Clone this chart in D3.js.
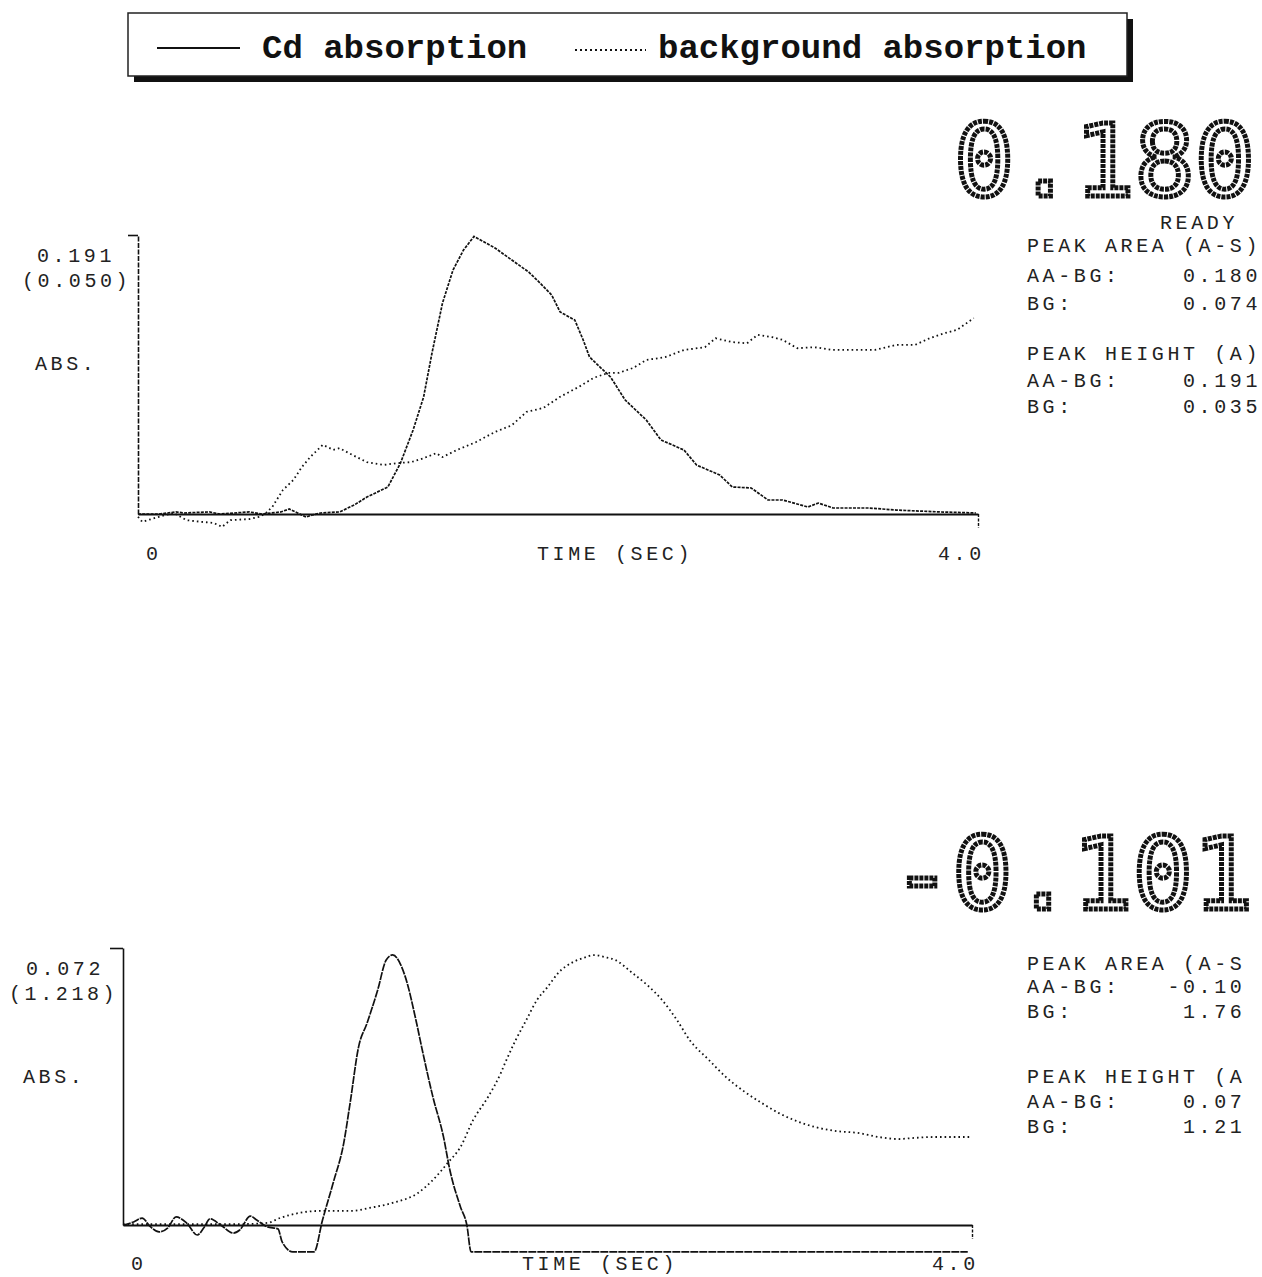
<!DOCTYPE html>
<html lang="en">
<head>
    <meta charset="utf-8">
    <title>Cd absorption</title>
    <style type="text/css">
        body { margin: 0; background: #fff; }
        .dm { font-family: "Liberation Mono", monospace; font-size: 20px; letter-spacing: 3.6px; fill: #222; white-space: pre; }
        .big { font-family: "DejaVu Sans Mono", monospace; font-size: 100px; fill: #fff; stroke: #111; stroke-width: 5; stroke-dasharray: 4,1; }
        .leg { font-family: "Liberation Mono", monospace; font-size: 34px; font-weight: bold; fill: #111; }
    </style>
</head>
<body>
   <svg class="chart" width="1262" height="1277"></svg>

   <script src="https://d3js.org/d3.v7.min.js"></script>
   <script>
        // top trace: time (s) / absorbance
        var cdTopT = [0,0.10,0.18,0.22,0.34,0.39,0.53,0.59,0.68,0.72,0.76,0.80,0.83,0.87,0.96,1.03,1.09,1.19,1.25,1.31,1.36,1.40,1.45,1.50,1.55,1.60,1.70,1.78,1.86,1.91,1.97,2.01,2.08,2.12,2.15,2.20,2.25,2.32,2.42,2.49,2.60,2.66,2.77,2.83,2.92,3.00,3.07,3.19,3.24,3.31,3.48,3.61,3.82,3.99];
        var cdTopA = [0,0,0.0014,0.0007,0.0014,0,0.0014,0,0.0014,0.0034,0.0007,-0.0021,-0.0007,0.0007,0.0014,0.0062,0.0116,0.0185,0.0349,0.0575,0.0801,0.1102,0.1444,0.1670,0.1807,0.1900,0.1821,0.1739,0.1657,0.1588,0.1499,0.1383,0.1328,0.1191,0.1075,0.1006,0.0938,0.0780,0.0644,0.0507,0.0438,0.0335,0.0267,0.0185,0.0178,0.0096,0.0096,0.0048,0.0075,0.0041,0.0041,0.0027,0.0014,0.0007];
        var bgTopT = [0,0.02,0.10,0.17,0.23,0.30,0.36,0.40,0.44,0.53,0.58,0.61,0.64,0.69,0.74,0.78,0.82,0.88,0.93,0.96,1.02,1.09,1.17,1.23,1.30,1.36,1.42,1.45,1.52,1.61,1.70,1.78,1.85,1.93,2.01,2.10,2.17,2.24,2.29,2.36,2.42,2.51,2.60,2.70,2.75,2.83,2.90,2.95,3.02,3.07,3.14,3.22,3.31,3.43,3.51,3.61,3.70,3.77,3.84,3.90,3.98];
        var bgTopA = [-0.0005,-0.0014,-0.0005,0.0002,-0.0011,-0.0014,-0.0016,-0.0023,-0.0011,-0.0009,-0.0005,0.0002,0.0013,0.0043,0.0061,0.0084,0.0102,0.0124,0.0115,0.0118,0.0106,0.0093,0.0088,0.0091,0.0093,0.0100,0.0109,0.0102,0.0115,0.0129,0.0147,0.0159,0.0183,0.0190,0.0210,0.0228,0.0244,0.0253,0.0253,0.0262,0.0276,0.0281,0.0294,0.0299,0.0315,0.0308,0.0306,0.0321,0.0317,0.0312,0.0297,0.0299,0.0294,0.0294,0.0294,0.0303,0.0303,0.0315,0.0324,0.0330,0.0351];

        // bottom trace
        var cdBotT = [0,0.05,0.09,0.13,0.17,0.21,0.25,0.30,0.35,0.38,0.41,0.46,0.52,0.55,0.60,0.63,0.68,0.73,0.75,0.80,0.90,0.94,0.99,1.04,1.07,1.11,1.15,1.20,1.24,1.27,1.33,1.38,1.41,1.46,1.51,1.54,1.59,1.62,1.64,3.98];
        var cdBotA = [0,0.0008,0.0018,-0.0005,-0.0018,-0.0008,0.0021,0.0005,-0.0026,-0.0008,0.0016,0,-0.0021,-0.0013,0.0023,0.0013,-0.0005,-0.0010,-0.0044,-0.0070,-0.0070,0.0013,0.0109,0.0213,0.0317,0.0463,0.0525,0.0611,0.0689,0.0702,0.0645,0.0533,0.0455,0.0333,0.0229,0.0143,0.0047,0,-0.0070,-0.0070];
        var bgBotT = [0,0.17,0.36,0.55,0.68,0.74,0.83,0.93,1.08,1.16,1.27,1.39,1.46,1.53,1.59,1.65,1.72,1.78,1.80,1.85,1.90,1.95,2.00,2.05,2.12,2.17,2.22,2.27,2.32,2.40,2.47,2.54,2.61,2.67,2.76,2.84,2.93,3.01,3.09,3.16,3.26,3.36,3.46,3.56,3.65,3.73,3.82,3.99];
        var bgBotA = [0.004,0.004,0.004,0.004,0.009,0.031,0.053,0.062,0.062,0.075,0.097,0.141,0.198,0.273,0.343,0.462,0.563,0.668,0.712,0.813,0.901,0.989,1.046,1.108,1.156,1.174,1.187,1.178,1.165,1.108,1.055,0.989,0.901,0.813,0.726,0.651,0.585,0.536,0.492,0.462,0.431,0.413,0.405,0.387,0.378,0.383,0.387,0.387];

        // readouts
        var bigTop = '0.180', bigBot = '-0.101';
        var panelTop = ['PEAK AREA (A-S)', 'AA-BG:    0.180', 'BG:       0.074', 'PEAK HEIGHT (A)', 'AA-BG:    0.191', 'BG:       0.035'];
        var panelBot = ['PEAK AREA (A-S', 'AA-BG:   -0.10', 'BG:       1.76', 'PEAK HEIGHT (A', 'AA-BG:    0.07', 'BG:       1.21'];
        var scaleTop = {cd: 0.191, bg: 0.050}, scaleBot = {cd: 0.072, bg: 1.218};
        var legendNames = ['Cd absorption', 'background absorption'];

        var svg = d3.select('.chart');
        svg.append('rect').attr('width', 1262).attr('height', 1277).attr('fill', '#fff');

        // 图例
        var leg = svg.append('g');
        leg.append('rect').attr('x', 134).attr('y', 19).attr('width', 999).attr('height', 63).attr('fill', '#111');
        leg.append('rect').attr('x', 128).attr('y', 13).attr('width', 999).attr('height', 63)
            .attr('fill', '#fff').attr('stroke', '#222').attr('stroke-width', 1.5);
        leg.append('line').attr('x1', 157).attr('x2', 240).attr('y1', 48).attr('y2', 48)
            .attr('stroke', '#111').attr('stroke-width', 1.8);
        leg.append('line').attr('x1', 575).attr('x2', 646).attr('y1', 50).attr('y2', 50)
            .attr('stroke', '#111').attr('stroke-width', 2.2).attr('stroke-dasharray', '2,3');
        leg.append('text').attr('class', 'leg').attr('x', 262).attr('y', 58).text(legendNames[0]);
        leg.append('text').attr('class', 'leg').attr('x', 658).attr('y', 58).text(legendNames[1]);

        function drawTrace(o) {
            var g = svg.append('g');
            var x = d3.scaleLinear().domain([0, 4]).range([o.x0, o.x1]);
            var yCd = d3.scaleLinear().domain([0, o.scale.cd]).range([o.y0, o.y1]);
            var yBg = d3.scaleLinear().domain([0, o.scale.bg]).range([o.y0, o.y1]);

            // 坐标轴
            var ya = g.append('g').attr('transform', 'translate(' + o.x0 + ',0)')
                .call(d3.axisLeft(yCd).tickValues([o.scale.cd]).tickSize(o.tick).tickSizeOuter(0).tickFormat(''));
            ya.selectAll('path, line').attr('stroke', '#111').attr('stroke-width', 1.6);
            if (o.dashAxis) ya.select('path').attr('stroke-dasharray', '5,1.5');

            var xa = g.append('g').attr('transform', 'translate(0,' + o.y0 + ')')
                .call(d3.axisBottom(x).tickValues([4]).tickSize(14).tickSizeOuter(0).tickFormat(''));
            xa.select('path').attr('stroke', '#111').attr('stroke-width', 1.8);
            xa.selectAll('line').attr('stroke', '#111').attr('stroke-width', 1.4).attr('stroke-dasharray', '3,1.5');

            var lineCd = d3.line().x(function(d) { return x(d[0]); }).y(function(d) { return yCd(d[1]); }).curve(o.curve);
            var lineBg = d3.line().x(function(d) { return x(d[0]); }).y(function(d) { return yBg(d[1]); }).curve(o.curve);

            g.append('path').datum(d3.zip(o.bgT, o.bgA)).attr('d', lineBg)
                .attr('fill', 'none').attr('stroke', '#111').attr('stroke-width', 1.8).attr('stroke-dasharray', '1.6,3');
            g.append('path').datum(d3.zip(o.cdT, o.cdA)).attr('d', lineCd)
                .attr('fill', 'none').attr('stroke', '#111').attr('stroke-width', 1.7).attr('stroke-dasharray', o.cdDash);

            // 文字
            g.append('text').attr('class', 'dm').attr('x', o.lx1).attr('y', o.ly1).text(o.scale.cd.toFixed(3));
            g.append('text').attr('class', 'dm').attr('x', o.lx2).attr('y', o.ly1 + 25).text('(' + o.scale.bg.toFixed(3) + ')');
            g.append('text').attr('class', 'dm').attr('x', o.lx3).attr('y', o.ly3).text('ABS.');
            g.append('text').attr('class', 'dm').attr('x', x(0) + 8).attr('y', o.y0 + o.xl).text('0');
            g.append('text').attr('class', 'dm').attr('x', o.tx).attr('y', o.y0 + o.xl).text('TIME (SEC)');
            g.append('text').attr('class', 'dm').attr('x', x(4) - 40).attr('y', o.y0 + o.xl).text('4.0');

            g.append('text').attr('class', 'big').attr('x', o.bx).attr('y', o.by).text(o.big);

            g.selectAll('.pn').data(o.panel).enter().append('text')
                .attr('class', 'dm pn')
                .attr('x', 1027)
                .attr('y', function(d, i) { return o.py[i]; })
                .text(function(d) { return d; });
        }

        drawTrace({
            x0: 138, x1: 978, y0: 514, y1: 235, tick: 10, dashAxis: true,
            scale: scaleTop, cdT: cdTopT, cdA: cdTopA, bgT: bgTopT, bgA: bgTopA,
            curve: d3.curveLinear, cdDash: '3,1.2',
            lx1: 37, lx2: 22, ly1: 262, lx3: 35, ly3: 370, xl: 46, tx: 537,
            big: bigTop, bx: 954, by: 196,
            panel: panelTop, py: [252, 282, 310, 360, 387, 413]
        });
        svg.append('text').attr('class', 'dm').attr('x', 1160).attr('y', 229).text('READY');

        drawTrace({
            x0: 123, x1: 972, y0: 1225, y1: 948, tick: 13, dashAxis: false,
            scale: scaleBot, cdT: cdBotT, cdA: cdBotA, bgT: bgBotT, bgA: bgBotA,
            curve: d3.curveMonotoneX, cdDash: '8,1',
            lx1: 26, lx2: 9, ly1: 975, lx3: 23, ly3: 1083, xl: 45, tx: 522,
            big: bigBot, bx: 892, by: 909,
            panel: panelBot, py: [970, 993, 1018, 1083, 1108, 1133]
        });
   </script>
</body>
</html>
